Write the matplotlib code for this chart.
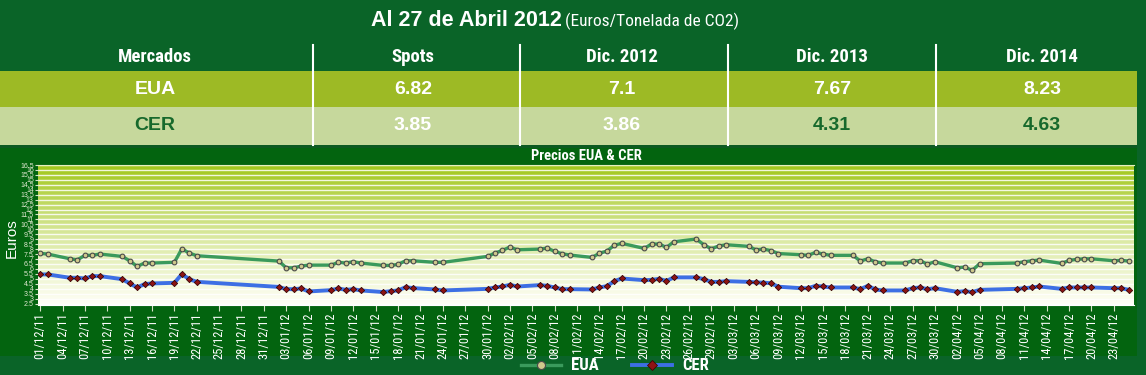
import matplotlib
matplotlib.use('Agg')
import matplotlib.pyplot as plt
from matplotlib import font_manager as fm
from matplotlib.patches import Rectangle
import numpy as np
import pandas as pd

# ---- table data ----
columns = ['Mercados', 'Spots', 'Dic. 2012', 'Dic. 2013', 'Dic. 2014']
markets = ['EUA', 'CER']
eua_prices = ['6.82', '7.1', '7.67', '8.23']
cer_prices = ['3.85', '3.86', '4.31', '4.63']

# ---- daily prices (Euros / t CO2) ----
dates = ['01/12/11', '02/12/11', '05/12/11', '06/12/11', '07/12/11', '08/12/11', '09/12/11',
         '12/12/11', '13/12/11', '14/12/11', '15/12/11', '16/12/11', '19/12/11', '20/12/11',
         '21/12/11', '22/12/11', '02/01/12', '03/01/12', '04/01/12', '05/01/12', '06/01/12',
         '09/01/12', '10/01/12', '11/01/12', '12/01/12', '13/01/12', '16/01/12', '17/01/12',
         '18/01/12', '19/01/12', '20/01/12', '23/01/12', '24/01/12', '30/01/12', '31/01/12',
         '01/02/12', '02/02/12', '03/02/12', '06/02/12', '07/02/12', '08/02/12', '09/02/12',
         '10/02/12', '13/02/12', '14/02/12', '15/02/12', '16/02/12', '17/02/12', '20/02/12',
         '21/02/12', '22/02/12', '23/02/12', '24/02/12', '27/02/12', '28/02/12', '29/02/12',
         '01/03/12', '02/03/12', '05/03/12', '06/03/12', '07/03/12', '08/03/12', '09/03/12',
         '12/03/12', '13/03/12', '14/03/12', '15/03/12', '16/03/12', '19/03/12', '20/03/12',
         '21/03/12', '22/03/12', '23/03/12', '26/03/12', '27/03/12', '28/03/12', '29/03/12',
         '30/03/12', '02/04/12', '03/04/12', '04/04/12', '05/04/12', '10/04/12', '11/04/12',
         '12/04/12', '13/04/12', '16/04/12', '17/04/12', '18/04/12', '19/04/12', '20/04/12',
         '23/04/12', '24/04/12', '25/04/12']
eua = [7.57, 7.50, 7.02, 6.92, 7.37, 7.37, 7.50,
       7.26, 6.82, 6.25, 6.59, 6.59, 6.66, 8.03,
       7.60, 7.33, 6.79, 6.11, 6.11, 6.28, 6.38,
       6.38, 6.66, 6.59, 6.72, 6.59, 6.35, 6.35,
       6.45, 6.82, 6.82, 6.66, 6.66, 7.26, 7.60,
       7.87, 8.21, 7.93, 8.00, 8.10, 7.77, 7.53,
       7.40, 7.16, 7.57, 7.80, 8.38, 8.58, 8.07,
       8.51, 8.51, 8.18, 8.74, 9.02, 8.44, 8.03,
       8.31, 8.44, 8.28, 7.93, 8.00, 7.85, 7.55,
       7.43, 7.37, 7.67, 7.50, 7.37, 7.37, 6.79,
       7.02, 6.72, 6.59, 6.59, 6.82, 6.82, 6.48,
       6.72, 6.11, 6.18, 5.85, 6.52, 6.59, 6.72,
       6.82, 6.89, 6.55, 6.86, 6.96, 7.02, 7.02,
       6.82, 6.86, 6.79]
cer = [5.44, 5.44, 5.10, 5.10, 5.03, 5.27, 5.27,
       4.96, 4.53, 4.12, 4.46, 4.53, 4.59, 5.47,
       4.96, 4.69, 4.18, 3.95, 3.95, 4.02, 3.72,
       3.85, 4.02, 3.88, 3.95, 3.82, 3.66, 3.75,
       3.82, 4.15, 4.06, 3.92, 3.82, 3.98, 4.12,
       4.22, 4.39, 4.22, 4.36, 4.29, 4.12, 3.95,
       3.95, 3.92, 4.12, 4.26, 4.76, 5.03, 4.86,
       4.89, 4.99, 4.79, 5.14, 5.14, 4.96, 4.69,
       4.69, 4.76, 4.69, 4.63, 4.61, 4.55, 4.20,
       4.05, 4.05, 4.29, 4.22, 4.12, 4.12, 3.95,
       4.29, 3.92, 3.82, 3.82, 4.05, 4.12, 3.95,
       4.05, 3.68, 3.75, 3.65, 3.88, 3.98, 4.05,
       4.12, 4.22, 3.98, 4.12, 4.12, 4.12, 4.12,
       4.05, 4.05, 3.88]

# ---- fonts ----
installed = {f.name for f in fm.fontManager.ttflist}
def pick(*names):
    for n in names:
        if n in installed:
            return n
    return 'DejaVu Sans'
narrow = pick('Liberation Sans Narrow', 'Roboto Condensed', 'Open Sans Condensed', 'Liberation Sans')
arial = pick('Liberation Sans', 'Roboto', 'DejaVu Sans')

DARK = '#0a6428'
PANEL = '#03640f'
EUA_BAND = '#9dba25'
CER_BAND = '#c6d89c'
TXT_GREEN = '#17692c'

W, H = 1146, 375
fig = plt.figure(figsize=(W / 100, H / 100), dpi=100, facecolor=DARK)

# background layer in pixel coordinates
bg = fig.add_axes([0, 0, 1, 1], zorder=0)
bg.set_xlim(0, W)
bg.set_ylim(H, 0)
bg.axis('off')

bg.add_patch(Rectangle((0, 148), 1137, 208, color=PANEL, lw=0))
bg.add_patch(Rectangle((0, 71), 1137, 36, color=EUA_BAND, lw=0))
bg.add_patch(Rectangle((0, 107), 1137, 38, color=CER_BAND, lw=0))
bg.add_patch(Rectangle((0, 145), 1137, 3, color='#0d5a22', lw=0))

# title
bg.text(562, 20, 'Al 27 de Abril 2012', ha='right', va='center', color='white',
        fontsize=15.5, fontweight='bold', family=arial)
bg.text(565, 21, '(Euros/Tonelada de CO2)', ha='left', va='center', color='white',
        fontsize=12.5, family=narrow)

col_x = [155, 413, 622, 832, 1042]
sep_x = [313, 520, 728, 936]
for x in sep_x:
    bg.plot([x, x], [45, 145], color='white', lw=1.5)

for x, c in zip(col_x, columns):
    bg.text(x, 57, c, ha='center', va='center', color='white', fontsize=13.5,
            fontweight='bold', family=narrow)

bg.text(col_x[0], 90, markets[0], ha='center', va='center', color='white',
        fontsize=14, fontweight='bold', family=arial)
bg.text(col_x[0], 126, markets[1], ha='center', va='center', color=TXT_GREEN,
        fontsize=14, fontweight='bold', family=arial)
cer_colors = ['white', 'white', TXT_GREEN, TXT_GREEN]
for x, v in zip(col_x[1:], eua_prices):
    bg.text(x, 90, v, ha='center', va='center', color='white', fontsize=14,
            fontweight='bold', family=arial)
for x, v, c in zip(col_x[1:], cer_prices, cer_colors):
    bg.text(x, 126, v, ha='center', va='center', color=c, fontsize=14,
            fontweight='bold', family=arial)

bg.text(586, 156, 'Precios EUA & CER', ha='center', va='center', color='white',
        fontsize=10.5, fontweight='bold', family=narrow)
bg.text(12, 238, 'Euros', ha='center', va='center', color='white', rotation=90,
        fontsize=11, family=arial)

# ---- line chart ----
left, right, top, bottom = 38, 1134, 165, 304.5
ax = fig.add_axes([left / W, 1 - bottom / H, (right - left) / W, (bottom - top) / H], zorder=1)

d = pd.to_datetime(dates, format='%d/%m/%y')
ymin, ymax = 2.4, 16.5

# green-to-white vertical gradient behind the plot
c_top = [0.63, 0.78, 0.10]
c_mid = [0.85, 0.91, 0.62]
c_bot = [1.0, 1.0, 0.97]
t = np.linspace(0, 1, 256)
img = np.empty((256, 1, 3))
for k in range(3):
    img[:, 0, k] = np.interp(t, [0, 0.5, 1], [c_bot[k], c_mid[k], c_top[k]])
ax.imshow(img, origin='lower', aspect='auto', extent=[0, 1, 0, 1],
          transform=ax.transAxes, zorder=0)

ax.plot(d, eua, color='#3a9a5c', lw=2.4, marker='o', ms=3.4, mfc='#cfc98c',
        mec='#4a4a4a', mew=0.8, zorder=3, label='EUA')
ax.plot(d, cer, color='#3d6fe4', lw=2.8, marker='D', ms=3.2, mfc='#8e1414',
        mec='#3a0606', mew=0.6, zorder=3, label='CER')

ax.set_ylim(ymin, ymax)
ax.set_xlim(d[0] - pd.Timedelta(hours=7), d[0] + pd.Timedelta(days=146.7))

yt = np.arange(2.5, 16.51, 0.5)
ax.set_yticks(yt)
ax.set_yticklabels(['%g' % v for v in yt], fontsize=5, color='#dfe8d0', family=arial)
ax.yaxis.grid(True, color='white', lw=1.0, alpha=0.85, zorder=1)
ax.set_axisbelow(True)

ticks = pd.date_range('2011-12-01', '2012-04-23', freq='3D')
ax.set_xticks(ticks)
ax.set_xticklabels([t.strftime('%d/%m/%y') for t in ticks], rotation=90,
                   fontsize=9, color='white', family=narrow)
ax.tick_params(axis='x', length=4, color='#d8e0c8', pad=2)
ax.tick_params(axis='y', length=2, color='#d8e0c8', pad=1)
for s in ['left', 'right']:
    ax.spines[s].set_visible(False)
ax.spines['bottom'].set_color('white')
ax.spines['top'].set_color('#e6f0c0')

leg = fig.legend(loc='center', bbox_to_anchor=(615 / W, 1 - 366 / H), ncol=2,
                 frameon=False, handlelength=2.4, columnspacing=2.0, handletextpad=0.6,
                 markerscale=1.7, prop={'family': narrow, 'weight': 'bold', 'size': 12})
for txt in leg.get_texts():
    txt.set_color('white')

fig.savefig('out.png', dpi=100, facecolor=fig.get_facecolor())
